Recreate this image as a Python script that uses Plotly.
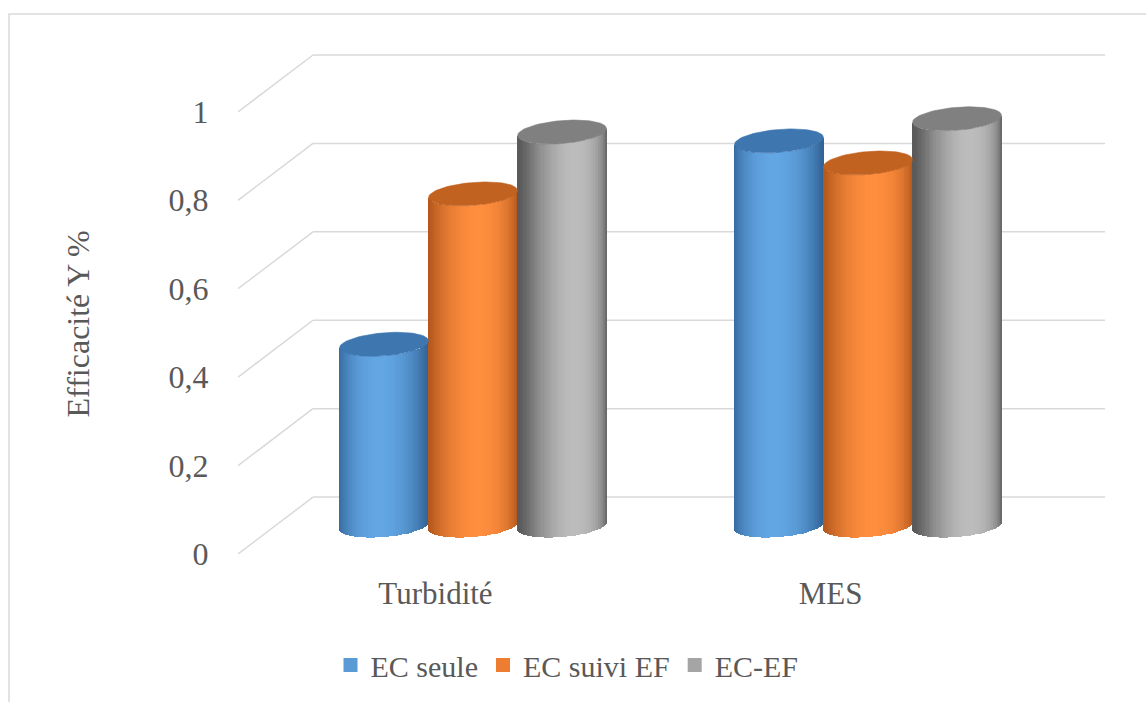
import numpy as np
import plotly.graph_objects as go

# ---- data ----
categories = ["Turbidité", "MES"]
series_names = ["EC seule", "EC suivi EF", "EC-EF"]
ec_seule = [0.41, 0.87]
ec_suivi_ef = [0.75, 0.82]
ec_ef = [0.89, 0.92]
y_ticks = [0, 0.2, 0.4, 0.6, 0.8, 1.0]
y_tick_labels = ["0", "0,2", "0,4", "0,6", "0,8", "1"]
series_values = [ec_seule, ec_suivi_ef, ec_ef]

# ---- styling ----
base_colors = ["#5B9BD5", "#ED7D31", "#A5A5A5"]
shade_dark = [(50, 100, 152), (178, 86, 28), (90, 90, 90)]
shade_light = [(98, 166, 228), (255, 142, 62), (188, 188, 188)]
top_colors = ["#3E76B0", "#C26220", "#808080"]
light_peak = [-0.1, 0.12, 0.3]
TEXT = "#595959"
GRID = "#d9d9d9"
FONT = "'Liberation Serif', 'Times New Roman', 'DejaVu Serif', serif"

# ---- geometry of the pseudo-3D frame ----
W, H = 1146, 702
L, R, T, B = 238, 41, 45, 147
PX_CAT = 395.0          # pixels per category along x
PX_VAL = 443.0          # pixels per unit of value along y
DEPTH_X = 75 / PX_CAT   # back wall offset
DEPTH_Y = 57 / PX_VAL
CYL_W = 89 / PX_CAT     # cylinder diameter
ELL_B = 11.5 / PX_VAL   # half height of the elliptic caps
ELL_TILT = 3.5 / PX_VAL # slight tilt of the caps
N_STRIPS = 60

x_max = (W - L - R) / PX_CAT
y_max = (H - T - B) / PX_VAL

# strips across a cylinder, denser near the silhouette
phi_edges = np.linspace(-np.pi / 2, np.pi / 2, N_STRIPS + 1)
u_edges = np.sin(phi_edges)
u_mid = 0.5 * (u_edges[:-1] + u_edges[1:])
u_w = u_edges[1:] - u_edges[:-1]


def shade(k, u):
    t = np.cos(np.arcsin(u) - np.arcsin(light_peak[k]))
    t = np.clip(t, 0, 1) ** 1.7
    d, l = np.array(shade_dark[k]), np.array(shade_light[k])
    c = d + (l - d) * t
    return "rgb(%d,%d,%d)" % tuple(np.round(c).astype(int))


fig = go.Figure()

y0 = DEPTH_Y / 2   # floor level in the middle of the depth
for k, (name, vals) in enumerate(zip(series_names, series_values)):
    xs, bases, ys, widths, cols = [], [], [], [], []
    ex, ey = [], []
    for c, v in enumerate(vals):
        cx = c + 0.5 + DEPTH_X / 2 + (k - 1) * CYL_W
        half = CYL_W / 2
        for u, du in zip(u_mid, u_w):
            xs.append(cx + u * half)
            bases.append(y0 + ELL_TILT * u - ELL_B * np.sqrt(max(0.0, 1 - u * u)))
            ys.append(v)
            widths.append(du * half + 0.7 / PX_CAT)
            cols.append(shade(k, u))
        th = np.linspace(0, 2 * np.pi, 90)
        ex += list(cx + half * np.cos(th)) + [None]
        ey += list(y0 + v + ELL_TILT * np.cos(th) + ELL_B * np.sin(th)) + [None]
    fig.add_trace(go.Bar(
        x=xs, y=ys, base=bases, width=widths,
        marker=dict(color=cols, line=dict(width=0)),
        showlegend=False, hoverinfo="skip",
    ))
    fig.add_trace(go.Scatter(
        x=ex, y=ey, mode="lines", fill="toself",
        fillcolor=top_colors[k], line=dict(color=top_colors[k], width=0.6),
        showlegend=False, hoverinfo="skip",
    ))

# legend entries
for k, name in enumerate(series_names):
    fig.add_trace(go.Bar(
        x=[None], y=[None], name=name,
        marker=dict(color=base_colors[k], line=dict(color=base_colors[k], width=2)),
    ))

# back wall and side wall gridlines
shapes = []
for v in y_ticks:
    shapes.append(dict(type="line", xref="x", yref="y", layer="below",
                       x0=DEPTH_X, y0=v + DEPTH_Y, x1=x_max, y1=v + DEPTH_Y,
                       line=dict(color=GRID, width=1.5)))
    shapes.append(dict(type="line", xref="x", yref="y", layer="below",
                       x0=0, y0=v, x1=DEPTH_X, y1=v + DEPTH_Y,
                       line=dict(color=GRID, width=1.5)))
# chart frame
pw, ph = W - L - R, H - T - B
shapes.append(dict(type="rect", xref="paper", yref="paper", layer="below",
                   x0=(9 - L) / pw, x1=(W + 20 - L) / pw,
                   y0=(H - B - (H + 20)) / ph, y1=(H - B - 14) / ph,
                   line=dict(color=GRID, width=1.5), fillcolor="rgba(0,0,0,0)"))

fig.update_layout(
    width=W, height=H,
    margin=dict(l=L, r=R, t=T, b=B),
    paper_bgcolor="white", plot_bgcolor="white",
    barmode="overlay", bargap=0,
    shapes=shapes,
    font=dict(family=FONT, color=TEXT),
    xaxis=dict(range=[0, x_max], tickvals=[0.5, 1.5], ticktext=categories,
               showgrid=False, zeroline=False, showline=False,
               ticks="outside", ticklen=12, tickcolor="rgba(0,0,0,0)",
               tickfont=dict(family=FONT, size=31, color=TEXT), fixedrange=True),
    yaxis=dict(range=[0, y_max], tickvals=y_ticks, ticktext=y_tick_labels,
               showgrid=False, zeroline=False, showline=False,
               ticks="outside", ticklen=22, tickcolor="rgba(0,0,0,0)",
               tickfont=dict(family=FONT, size=32, color=TEXT), fixedrange=True),
    legend=dict(orientation="h", x=(567 - L) / pw, xanchor="center",
                y=(H - B - 665) / ph, yanchor="middle",
                font=dict(family=FONT, size=30, color=TEXT),
                itemwidth=30, bgcolor="rgba(0,0,0,0)"),
    annotations=[dict(text="Efficacité Y %", textangle=-90, showarrow=False,
                      xref="paper", yref="paper",
                      x=(78 - L) / pw, y=(H - B - 325) / ph,
                      xanchor="center", yanchor="middle",
                      font=dict(family=FONT, size=32, color=TEXT))],
)

fig.write_html("out.html")
